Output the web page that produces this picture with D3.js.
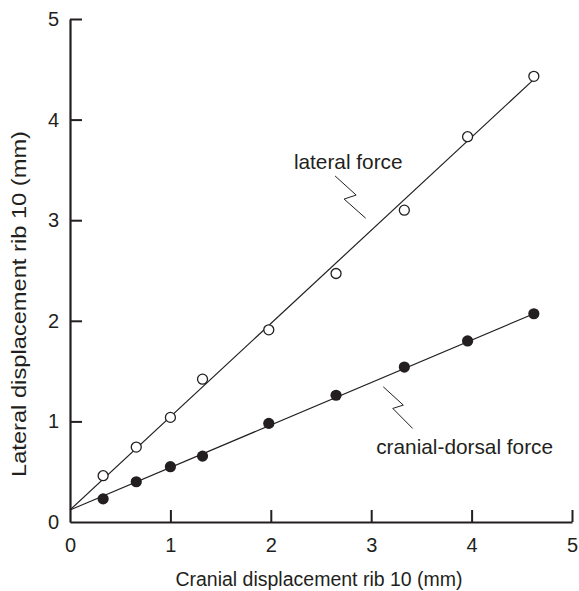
<!DOCTYPE html>
<html><head><meta charset="utf-8">
<script src="https://cdn.jsdelivr.net/npm/d3@7"></script>
<style>
html,body{margin:0;padding:0;background:#fff;}
text{font-family:"Liberation Sans",Arial,Helvetica,sans-serif;fill:#231f20;}
</style></head>
<body>
<svg id="c" width="579" height="591"></svg>
<script>
const xValues = [0.33, 0.66, 1.0, 1.32, 1.98, 2.65, 3.33, 3.96, 4.62];
const lateralValues = [0.46, 0.745, 1.04, 1.42, 1.91, 2.47, 3.10, 3.83, 4.43];
const cranialValues = [0.23, 0.40, 0.55, 0.655, 0.98, 1.26, 1.54, 1.80, 2.07];
const lateralFit = [[0, 0.12], [4.62, 4.40]];
const cranialFit = [[0, 0.12], [4.62, 2.07]];
const xTicks = [0, 1, 2, 3, 4, 5];
const yTicks = [0, 1, 2, 3, 4, 5];
const lateralLeader = [[2.64, 3.44], [2.85, 3.25], [2.73, 3.21], [2.945, 3.02]];
const cranialLeader = [[3.12, 1.344], [3.32, 1.162], [3.215, 1.129], [3.413, 0.93]];
const labels = [
  {text: "lateral force", x: 2.23, y: 3.505},
  {text: "cranial-dorsal force", x: 3.05, y: 0.675}
];
const xTitle = "Cranial displacement rib 10 (mm)";
const yTitle = "Lateral displacement rib 10 (mm)";

const ink = "#231f20";
const svg = d3.select("#c");
const x = d3.scaleLinear().domain([0, 5]).range([70, 572]);
const y = d3.scaleLinear().domain([0, 5]).range([522, 19]);

// axes
const gx = svg.append("g").attr("transform", "translate(0,522)")
  .call(d3.axisBottom(x).tickValues(xTicks).tickSize(-12).tickSizeOuter(0).tickPadding(16).tickFormat(d3.format("d")));
const gy = svg.append("g").attr("transform", "translate(70,0)")
  .call(d3.axisLeft(y).tickValues(yTicks).tickSize(-12).tickSizeOuter(0).tickPadding(11).tickFormat(d3.format("d")));
[gx, gy].forEach(g => {
  g.select(".domain").attr("stroke", ink).attr("stroke-width", 2.2);
  g.selectAll(".tick line").attr("stroke", ink).attr("stroke-width", 2);
  g.selectAll(".tick text").style("font-size", "20px").attr("fill", ink)
    .style("font-family", "'Liberation Sans',Arial,Helvetica,sans-serif");
});
gx.selectAll(".tick").filter(d => d === 0).select("line").remove();
gy.selectAll(".tick").filter(d => d === 0).select("line").remove();

// titles
svg.append("text").attr("x", 319).attr("y", 586).attr("text-anchor", "middle")
  .style("font-size", "19.5px").text(xTitle);
svg.append("text").attr("transform", "translate(26,304) rotate(-90)").attr("text-anchor", "middle")
  .attr("textLength", 346).attr("lengthAdjust", "spacingAndGlyphs")
  .style("font-size", "20px").text(yTitle);

// fit lines
const line = d3.line().x(d => x(d[0])).y(d => y(d[1]));
svg.append("path").attr("d", line(lateralFit)).attr("fill", "none").attr("stroke", ink).attr("stroke-width", 1.2);
svg.append("path").attr("d", line(cranialFit)).attr("fill", "none").attr("stroke", ink).attr("stroke-width", 1.2);

// points
svg.append("g").selectAll("circle").data(xValues.map((v, i) => [v, lateralValues[i]])).join("circle")
  .attr("cx", d => x(d[0])).attr("cy", d => y(d[1])).attr("r", 5)
  .attr("fill", "#fff").attr("stroke", ink).attr("stroke-width", 1.3);
svg.append("g").selectAll("circle").data(xValues.map((v, i) => [v, cranialValues[i]])).join("circle")
  .attr("cx", d => x(d[0])).attr("cy", d => y(d[1])).attr("r", 5.6)
  .attr("fill", ink);

// leaders
[lateralLeader, cranialLeader].forEach(p => {
  svg.append("path").attr("d", line(p)).attr("fill", "none").attr("stroke", ink).attr("stroke-width", 1);
});
// labels
svg.append("g").selectAll("text").data(labels).join("text")
  .attr("x", d => x(d.x)).attr("y", d => y(d.y)).style("font-size", "20.8px").text(d => d.text);
</script>
</body></html>
